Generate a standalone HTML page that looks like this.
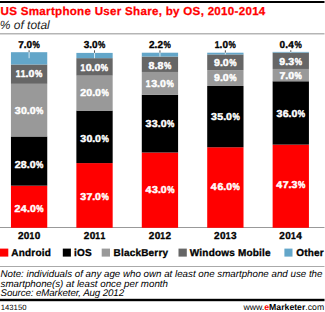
<!DOCTYPE html>
<html><head><meta charset="utf-8">
<style>
html,body{margin:0;padding:0;background:#fff;width:325px;height:312px;overflow:hidden;position:relative;font-family:"Liberation Sans",sans-serif;}
svg{position:absolute;left:0;top:0;}
text{font-family:"Liberation Sans",sans-serif;text-rendering:geometricPrecision;}
.lb{font-size:10px;font-weight:bold;fill:#fff;stroke:#fff;stroke-width:0.45px;}
.tl{font-size:10px;font-weight:bold;fill:#000;stroke:#000;stroke-width:0.35px;}
.lg{font-size:10px;font-weight:bold;fill:#000;letter-spacing:0.2px;stroke:#000;stroke-width:0.3px;}
.nt{font-size:9.75px;font-style:italic;fill:#000;}
</style></head>
<body>
<svg width="325" height="312" viewBox="0 0 325 312">
<rect x="0" y="1" width="324.5" height="2" fill="#000"/>
<text x="0.6" y="15" style="font-size:11.6px;letter-spacing:0.28px;font-weight:bold;fill:#ff0000;stroke:#ff0000;stroke-width:0.25px">US Smartphone User Share, by OS, 2010-2014</text>
<text x="-0.3" y="28.8" style="font-size:12px;font-style:italic;fill:#222">% of total</text>
<rect x="0" y="33" width="324.5" height="1.5" fill="#b5b5b5"/>
<rect x="0" y="227" width="324.5" height="1" fill="#999"/>
<rect x="10.95" y="185.66" width="36.3" height="42.14" fill="#ff0000"/>
<rect x="10.95" y="136.49" width="36.3" height="49.17" fill="#000000"/>
<rect x="10.95" y="83.81" width="36.3" height="52.68" fill="#999999"/>
<rect x="10.95" y="64.49" width="36.3" height="19.32" fill="#666666"/>
<rect x="10.95" y="52.20" width="36.3" height="12.29" fill="#63a6c9"/>
<text class="lb" transform="translate(14.41,212.35) scale(1.060,1)">2</text><text class="lb" transform="translate(20.82,212.35) scale(1.060,1)">4</text><text class="lb" transform="translate(27.04,212.35) scale(1.060,1)">.</text><text class="lb" transform="translate(29.94,212.35) scale(1.060,1)">0</text><text class="lb" transform="translate(36.34,212.35) scale(0.820,1)">%</text>
<text class="lb" transform="translate(14.64,167.75) scale(1.060,1)">2</text><text class="lb" transform="translate(20.87,167.75) scale(1.060,1)">8</text><text class="lb" transform="translate(26.82,167.75) scale(1.060,1)">.</text><text class="lb" transform="translate(29.72,167.75) scale(1.060,1)">0</text><text class="lb" transform="translate(36.12,167.75) scale(0.820,1)">%</text>
<text class="lb" transform="translate(14.77,114.45) scale(1.060,1)">3</text><text class="lb" transform="translate(20.97,114.45) scale(1.060,1)">0</text><text class="lb" transform="translate(26.81,114.45) scale(1.060,1)">.</text><text class="lb" transform="translate(29.70,114.45) scale(1.060,1)">0</text><text class="lb" transform="translate(36.11,114.45) scale(0.820,1)">%</text>
<text class="lb" transform="translate(15.68,77.35) scale(0.850,1)">1</text><text class="lb" transform="translate(20.74,77.35) scale(0.850,1)">1</text><text class="lb" transform="translate(25.61,77.35) scale(1.060,1)">.</text><text class="lb" transform="translate(28.50,77.35) scale(1.060,1)">0</text><text class="lb" transform="translate(34.91,77.35) scale(0.820,1)">%</text>
<text class="tl" transform="translate(18.18,48.00) scale(1.000,1)">7</text><text class="tl" transform="translate(23.72,48.00) scale(1.000,1)">.</text><text class="tl" transform="translate(26.52,48.00) scale(1.000,1)">0</text><text class="tl" transform="translate(32.52,48.00) scale(0.820,1)">%</text>
<rect x="28.60" y="50.3" width="1" height="1.90" fill="#555"/>
<rect x="28.60" y="52.20" width="1" height="6.00" fill="#d5e8f2"/>
<text class="tl" transform="translate(17.96,238.60) scale(1.000,1)">2</text><text class="tl" transform="translate(23.83,238.60) scale(1.000,1)">0</text><text class="tl" transform="translate(29.54,238.60) scale(0.850,1)">1</text><text class="tl" transform="translate(34.74,238.60) scale(1.000,1)">0</text>
<rect x="76.37" y="163.09" width="36.3" height="64.71" fill="#ff0000"/>
<rect x="76.37" y="110.62" width="36.3" height="52.47" fill="#000000"/>
<rect x="76.37" y="75.64" width="36.3" height="34.98" fill="#999999"/>
<rect x="76.37" y="58.15" width="36.3" height="17.49" fill="#666666"/>
<rect x="76.37" y="52.90" width="36.3" height="5.25" fill="#63a6c9"/>
<text class="lb" transform="translate(80.23,199.65) scale(1.060,1)">3</text><text class="lb" transform="translate(86.38,199.65) scale(1.060,1)">7</text><text class="lb" transform="translate(92.19,199.65) scale(1.060,1)">.</text><text class="lb" transform="translate(95.09,199.65) scale(1.060,1)">0</text><text class="lb" transform="translate(101.50,199.65) scale(0.820,1)">%</text>
<text class="lb" transform="translate(80.19,141.95) scale(1.060,1)">3</text><text class="lb" transform="translate(86.39,141.95) scale(1.060,1)">0</text><text class="lb" transform="translate(92.23,141.95) scale(1.060,1)">.</text><text class="lb" transform="translate(95.12,141.95) scale(1.060,1)">0</text><text class="lb" transform="translate(101.53,141.95) scale(0.820,1)">%</text>
<text class="lb" transform="translate(80.15,96.05) scale(1.060,1)">2</text><text class="lb" transform="translate(86.30,96.05) scale(1.060,1)">0</text><text class="lb" transform="translate(92.14,96.05) scale(1.060,1)">.</text><text class="lb" transform="translate(95.04,96.05) scale(1.060,1)">0</text><text class="lb" transform="translate(101.45,96.05) scale(0.820,1)">%</text>
<text class="lb" transform="translate(80.56,70.55) scale(0.850,1)">1</text><text class="lb" transform="translate(85.73,70.55) scale(1.060,1)">0</text><text class="lb" transform="translate(91.57,70.55) scale(1.060,1)">.</text><text class="lb" transform="translate(94.47,70.55) scale(1.060,1)">0</text><text class="lb" transform="translate(100.87,70.55) scale(0.820,1)">%</text>
<text class="tl" transform="translate(83.66,48.00) scale(1.000,1)">3</text><text class="tl" transform="translate(89.28,48.00) scale(1.000,1)">.</text><text class="tl" transform="translate(92.08,48.00) scale(1.000,1)">0</text><text class="tl" transform="translate(98.07,48.00) scale(0.820,1)">%</text>
<rect x="94.02" y="50.3" width="1" height="2.60" fill="#555"/>
<rect x="94.02" y="52.90" width="1" height="5.25" fill="#d5e8f2"/>
<text class="tl" transform="translate(83.78,238.60) scale(1.000,1)">2</text><text class="tl" transform="translate(89.65,238.60) scale(1.000,1)">0</text><text class="tl" transform="translate(95.36,238.60) scale(0.850,1)">1</text><text class="tl" transform="translate(100.42,238.60) scale(0.850,1)">1</text>
<rect x="141.79" y="152.51" width="36.3" height="75.29" fill="#ff0000"/>
<rect x="141.79" y="94.72" width="36.3" height="57.78" fill="#000000"/>
<rect x="141.79" y="71.96" width="36.3" height="22.76" fill="#999999"/>
<rect x="141.79" y="56.55" width="36.3" height="15.41" fill="#666666"/>
<rect x="141.79" y="52.70" width="36.3" height="3.85" fill="#63a6c9"/>
<text class="lb" transform="translate(145.38,193.45) scale(1.060,1)">4</text><text class="lb" transform="translate(152.07,193.45) scale(1.060,1)">3</text><text class="lb" transform="translate(157.97,193.45) scale(1.060,1)">.</text><text class="lb" transform="translate(160.86,193.45) scale(1.060,1)">0</text><text class="lb" transform="translate(167.27,193.45) scale(0.820,1)">%</text>
<text class="lb" transform="translate(145.50,127.25) scale(1.060,1)">3</text><text class="lb" transform="translate(151.87,127.25) scale(1.060,1)">3</text><text class="lb" transform="translate(157.76,127.25) scale(1.060,1)">.</text><text class="lb" transform="translate(160.66,127.25) scale(1.060,1)">0</text><text class="lb" transform="translate(167.06,127.25) scale(0.820,1)">%</text>
<text class="lb" transform="translate(145.86,86.75) scale(0.850,1)">1</text><text class="lb" transform="translate(151.21,86.75) scale(1.060,1)">3</text><text class="lb" transform="translate(157.10,86.75) scale(1.060,1)">.</text><text class="lb" transform="translate(160.00,86.75) scale(1.060,1)">0</text><text class="lb" transform="translate(166.41,86.75) scale(0.820,1)">%</text>
<text class="lb" transform="translate(148.51,68.55) scale(1.060,1)">8</text><text class="lb" transform="translate(154.46,68.55) scale(1.060,1)">.</text><text class="lb" transform="translate(157.44,68.55) scale(1.060,1)">8</text><text class="lb" transform="translate(163.96,68.55) scale(0.820,1)">%</text>
<text class="tl" transform="translate(149.01,48.10) scale(1.000,1)">2</text><text class="tl" transform="translate(154.60,48.10) scale(1.000,1)">.</text><text class="tl" transform="translate(157.44,48.10) scale(1.000,1)">2</text><text class="tl" transform="translate(163.45,48.10) scale(0.820,1)">%</text>
<rect x="159.44" y="50.3" width="1" height="2.40" fill="#555"/>
<rect x="159.44" y="52.70" width="1" height="3.85" fill="#d5e8f2"/>
<text class="tl" transform="translate(148.77,238.60) scale(1.000,1)">2</text><text class="tl" transform="translate(154.64,238.60) scale(1.000,1)">0</text><text class="tl" transform="translate(160.35,238.60) scale(0.850,1)">1</text><text class="tl" transform="translate(165.60,238.60) scale(1.000,1)">2</text>
<rect x="207.21" y="147.25" width="36.3" height="80.55" fill="#ff0000"/>
<rect x="207.21" y="85.97" width="36.3" height="61.29" fill="#000000"/>
<rect x="207.21" y="70.21" width="36.3" height="15.76" fill="#999999"/>
<rect x="207.21" y="54.45" width="36.3" height="15.76" fill="#666666"/>
<rect x="207.21" y="52.70" width="36.3" height="1.75" fill="#63a6c9"/>
<text class="lb" transform="translate(210.87,190.05) scale(1.060,1)">4</text><text class="lb" transform="translate(217.42,190.05) scale(1.060,1)">6</text><text class="lb" transform="translate(223.31,190.05) scale(1.060,1)">.</text><text class="lb" transform="translate(226.21,190.05) scale(1.060,1)">0</text><text class="lb" transform="translate(232.61,190.05) scale(0.820,1)">%</text>
<text class="lb" transform="translate(210.92,120.05) scale(1.060,1)">3</text><text class="lb" transform="translate(217.20,120.05) scale(1.060,1)">5</text><text class="lb" transform="translate(223.18,120.05) scale(1.060,1)">.</text><text class="lb" transform="translate(226.08,120.05) scale(1.060,1)">0</text><text class="lb" transform="translate(232.49,120.05) scale(0.820,1)">%</text>
<text class="lb" transform="translate(214.05,81.15) scale(1.060,1)">9</text><text class="lb" transform="translate(219.93,81.15) scale(1.060,1)">.</text><text class="lb" transform="translate(222.82,81.15) scale(1.060,1)">0</text><text class="lb" transform="translate(229.23,81.15) scale(0.820,1)">%</text>
<text class="lb" transform="translate(214.05,65.85) scale(1.060,1)">9</text><text class="lb" transform="translate(219.93,65.85) scale(1.060,1)">.</text><text class="lb" transform="translate(222.82,65.85) scale(1.060,1)">0</text><text class="lb" transform="translate(229.23,65.85) scale(0.820,1)">%</text>
<text class="tl" transform="translate(214.70,48.10) scale(0.850,1)">1</text><text class="tl" transform="translate(219.62,48.10) scale(1.000,1)">.</text><text class="tl" transform="translate(222.41,48.10) scale(1.000,1)">0</text><text class="tl" transform="translate(228.41,48.10) scale(0.820,1)">%</text>
<rect x="224.86" y="50.3" width="1" height="2.40" fill="#555"/>
<rect x="224.86" y="52.70" width="1" height="1.75" fill="#d5e8f2"/>
<text class="tl" transform="translate(214.12,238.60) scale(1.000,1)">2</text><text class="tl" transform="translate(219.98,238.60) scale(1.000,1)">0</text><text class="tl" transform="translate(225.70,238.60) scale(0.850,1)">1</text><text class="tl" transform="translate(231.06,238.60) scale(1.000,1)">3</text>
<rect x="272.63" y="144.60" width="36.3" height="83.20" fill="#ff0000"/>
<rect x="272.63" y="81.28" width="36.3" height="63.32" fill="#000000"/>
<rect x="272.63" y="68.96" width="36.3" height="12.31" fill="#999999"/>
<rect x="272.63" y="52.60" width="36.3" height="16.36" fill="#666666"/>
<rect x="272.63" y="51.90" width="36.3" height="0.70" fill="#63a6c9"/>
<text class="lb" transform="translate(276.25,187.85) scale(1.060,1)">4</text><text class="lb" transform="translate(282.73,187.85) scale(1.060,1)">7</text><text class="lb" transform="translate(288.54,187.85) scale(1.060,1)">.</text><text class="lb" transform="translate(291.62,187.85) scale(1.060,1)">3</text><text class="lb" transform="translate(298.07,187.85) scale(0.820,1)">%</text>
<text class="lb" transform="translate(276.41,116.65) scale(1.060,1)">3</text><text class="lb" transform="translate(282.64,116.65) scale(1.060,1)">6</text><text class="lb" transform="translate(288.53,116.65) scale(1.060,1)">.</text><text class="lb" transform="translate(291.42,116.65) scale(1.060,1)">0</text><text class="lb" transform="translate(297.83,116.65) scale(0.820,1)">%</text>
<text class="lb" transform="translate(279.46,78.90) scale(1.060,1)">7</text><text class="lb" transform="translate(285.27,78.90) scale(1.060,1)">.</text><text class="lb" transform="translate(288.16,78.90) scale(1.060,1)">0</text><text class="lb" transform="translate(294.57,78.90) scale(0.820,1)">%</text>
<text class="lb" transform="translate(279.35,64.75) scale(1.060,1)">9</text><text class="lb" transform="translate(285.24,64.75) scale(1.060,1)">.</text><text class="lb" transform="translate(288.31,64.75) scale(1.060,1)">3</text><text class="lb" transform="translate(294.77,64.75) scale(0.820,1)">%</text>
<text class="tl" transform="translate(279.56,48.10) scale(1.000,1)">0</text><text class="tl" transform="translate(285.14,48.10) scale(1.000,1)">.</text><text class="tl" transform="translate(288.17,48.10) scale(1.000,1)">4</text><text class="tl" transform="translate(294.53,48.10) scale(0.820,1)">%</text>
<rect x="290.28" y="50.3" width="1" height="1.60" fill="#555"/>
<rect x="290.28" y="51.90" width="1" height="0.70" fill="#d5e8f2"/>
<text class="tl" transform="translate(279.34,238.60) scale(1.000,1)">2</text><text class="tl" transform="translate(285.21,238.60) scale(1.000,1)">0</text><text class="tl" transform="translate(290.92,238.60) scale(0.850,1)">1</text><text class="tl" transform="translate(296.36,238.60) scale(1.000,1)">4</text>
<rect x="0" y="248.6" width="8.3" height="8" fill="#ff0000"/><text x="11.3" y="256.3" class="lg">Android</text>
<rect x="62.8" y="248.6" width="8.1" height="8" fill="#000000"/><text x="74" y="256.3" class="lg">iOS</text>
<rect x="101.7" y="248.6" width="8.3" height="8" fill="#999999"/><text x="113.5" y="256.3" class="lg">BlackBerry</text>
<rect x="178.5" y="248.6" width="8.3" height="8" fill="#666666"/><text x="189.8" y="256.3" class="lg">Windows Mobile</text>
<rect x="284.4" y="248.6" width="8.1" height="8" fill="#63a6c9"/><text x="296.2" y="256.3" class="lg">Other</text>
<rect x="0" y="266" width="324.5" height="1" fill="#aaa"/>
<text x="0.5" y="276.8" class="nt">Note: individuals of any age who own at least one smartphone and use the</text>
<text x="0.5" y="286.6" class="nt">smartphone(s) at least once per month</text>
<text x="0.5" y="296.4" class="nt" style="letter-spacing:-0.11px">Source: eMarketer, Aug 2012</text>
<rect x="0" y="298.8" width="324.5" height="2.4" fill="#000"/>
<text x="0.8" y="309.8" style="font-size:7.7px;fill:#000">143150</text>
<text x="243.5" y="309.8" style="font-size:8.7px;fill:#000">www.<tspan style="font-weight:bold;fill:#ff0000">e</tspan><tspan style="font-weight:bold">Marketer</tspan>.com</text>
</svg>
</body></html>
